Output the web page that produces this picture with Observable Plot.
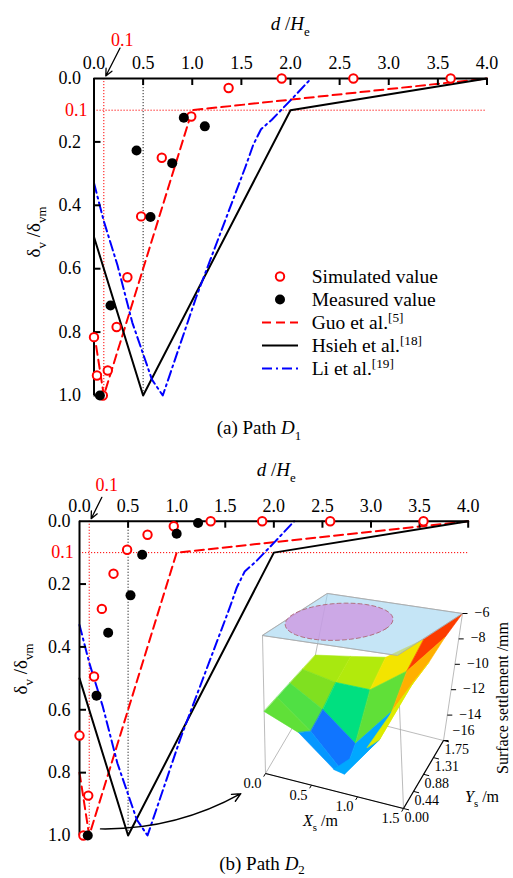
<!DOCTYPE html>
<html><head><meta charset="utf-8">
<script src="https://cdn.jsdelivr.net/npm/d3@7"></script>
<script src="https://cdn.jsdelivr.net/npm/@observablehq/plot@0.6"></script>
<style>
body{margin:0;background:#fff;}
#wrap{position:relative;width:513px;height:878px;overflow:hidden;background:#fff;font-family:"Liberation Serif","Times New Roman",serif;color:#000;}
.layer{position:absolute;}
svg text{font-family:"Liberation Serif","Times New Roman",serif;}
</style></head>
<body><div id="wrap"></div>
<script>
// ---------------- data ----------------
const xTicks = [0, 0.5, 1, 1.5, 2, 2.5, 3, 3.5, 4];
const yTicks = [0, 0.2, 0.4, 0.6, 0.8, 1.0];
const refH = [0.1];          // red dotted horizontal, red y label
const refV = [0.1];          // red dotted vertical
const refMid = [0.5];        // black dotted vertical

const guoX = [0, 0.1, 1.0, 4.0];
const guoY = [0.8, 1.0, 0.1, 0];
const hsiehX = [0, 0.5, 2.0, 4.0];
const hsiehY = [0.5, 1.0, 0.1, 0];
const liX = [0, 0.1, 0.24, 0.39, 0.59, 0.7, 1.04, 1.54, 1.62, 1.7, 1.81, 2.0, 2.21];
const liY = [0.33, 0.45, 0.59, 0.77, 0.95, 1.0, 0.69, 0.28, 0.21, 0.16, 0.13, 0.069, 0];

// Path D1
const simAX = [1.91, 2.64, 3.63, 1.37, 0.99, 0.69, 0.48, 0.34, 0.23, 0.0, 0.03, 0.14, 0.09];
const simAY = [0, 0, 0, 0.03, 0.12, 0.25, 0.435, 0.627, 0.784, 0.816, 0.937, 0.921, 1.0];
const measAX = [0.914, 1.128, 0.433, 0.796, 0.575, 0.168, 0.06];
const measAY = [0.124, 0.151, 0.227, 0.267, 0.437, 0.716, 1.0];
// Path D2
const simBX = [0.97, 1.35, 1.88, 2.58, 3.54, 0.70, 0.49, 0.35, 0.23, 0.15, 0.0, 0.09, 0.04];
const simBY = [0.016, 0, 0, 0, 0, 0.043, 0.091, 0.167, 0.279, 0.494, 0.682, 0.873, 1.0];
const measBX = [1.22, 1.0, 0.645, 0.525, 0.295, 0.175, 0.085];
const measBY = [0.006, 0.04, 0.107, 0.236, 0.355, 0.555, 1.0];

// inset: surface settlement (mm) on grid Xs x Ys (rows = Ys)
const insXs = [0, 0.375, 0.75, 1.125, 1.5];
const insYs = [0, 0.44, 0.88, 1.31, 1.75];
const insZ = [
  [-11.5, -12.5, -14.5, -12.5, -9.0],
  [-11.5, -13.5, -16.0, -13.0, -8.5],
  [-11.5, -13.0, -15.0, -12.0, -8.0],
  [-11.5, -12.0, -12.0, -10.0, -7.0],
  [-11.5, -11.0, -10.5, -8.5, -6.0]
];
const zTicks = [-6, -8, -10, -12, -14, -16];
const xsTicks = [0, 0.5, 1.0, 1.5];
const ysTicks = [0, 0.44, 0.88, 1.31, 1.75];
const surfStops = [-16, -15, -14, -13, -12, -11, -10, -9, -8, -6];
const surfColors = ["#5a00b0", "#2a20ff", "#00a8ff", "#00e080", "#80e020", "#d0f000", "#ffe000", "#ffa000", "#ff4000", "#d00000"];

// ---------------- helpers ----------------
const FONT = "Liberation Serif";
const pts = (X, Y) => X.map((x, i) => ({x, y: Y[i]}));
const wrap = document.getElementById("wrap");
function place(node, left, top) {
  const d = document.createElement("div");
  d.className = "layer"; d.style.left = left + "px"; d.style.top = top + "px";
  d.appendChild(node); wrap.appendChild(d);
}

function panel(cfg) {
  const innerH = cfg.height - cfg.marginTop - cfg.marginBottom;
  const innerW = cfg.width - cfg.marginLeft - cfg.marginRight;
  const tY = 7 / innerH, tX = 7 / innerW * 4;
  return Plot.plot({
    width: cfg.width, height: cfg.height,
    marginLeft: cfg.marginLeft, marginRight: cfg.marginRight,
    marginTop: cfg.marginTop, marginBottom: cfg.marginBottom,
    x: {domain: [0, 4], axis: null},
    y: {domain: [0, 1], reverse: true, axis: null},
    style: {background: "transparent", fontFamily: FONT, color: "black", overflow: "visible"},
    marks: [
      Plot.ruleY(refH, {x1: 0, x2: 4, stroke: "red", strokeWidth: 1, strokeDasharray: "1.2,1.8"}),
      Plot.ruleX(refV, {y1: 0, y2: 1, stroke: "red", strokeWidth: 1, strokeDasharray: "1.2,1.8"}),
      Plot.ruleX(refMid, {y1: 0, y2: 1, stroke: "#222", strokeWidth: 1, strokeDasharray: "1.2,1.8"}),
      Plot.line(pts(guoX, guoY), {x: "x", y: "y", stroke: "red", strokeWidth: 2, strokeDasharray: "9,5"}),
      Plot.line(pts(hsiehX, hsiehY), {x: "x", y: "y", stroke: "black", strokeWidth: 2}),
      Plot.line(pts(liX, liY), {x: "x", y: "y", stroke: "blue", strokeWidth: 2, strokeDasharray: "10,4,2,4"}),
      Plot.ruleY([0], {x1: 0, x2: 4, stroke: "black", strokeWidth: 2}),
      Plot.ruleX([0], {y1: 0, y2: 1, stroke: "black", strokeWidth: 2}),
      Plot.ruleX(xTicks.slice(1), {y1: 0, y2: tY, stroke: "black", strokeWidth: 2}),
      Plot.ruleY(yTicks.slice(1), {x1: 0, x2: tX, stroke: "black", strokeWidth: 2}),
      Plot.text(xTicks, {x: d => d, y: 0, text: d => d.toFixed(1), dy: cfg.xLabDy, lineAnchor: "bottom", fontSize: 18, fontFamily: FONT}),
      Plot.text(yTicks, {x: 0, y: d => d, text: d => d.toFixed(1), dx: cfg.yLabDx, textAnchor: "end", fontSize: 18, fontFamily: FONT}),
      Plot.text(refH, {x: 0, y: d => d, text: d => d.toFixed(1), dx: cfg.redDx, textAnchor: "end", fill: "red", fontSize: 18, fontFamily: FONT}),
      Plot.arrow(cfg.ann, {x1: "x1", y1: "y1", x2: "x2", y2: "y2", stroke: "black", strokeWidth: 1.3, headLength: 9, headAngle: 50}),
      Plot.text(cfg.annText, {x: "x", y: "y", text: "t", fill: "red", fontSize: 18, fontFamily: FONT}),
      ...(cfg.extra || []),
      Plot.dot(pts(cfg.simX, cfg.simY), {x: "x", y: "y", r: 4.2, stroke: "red", strokeWidth: 2, fill: "white"}),
      Plot.dot(pts(cfg.measX, cfg.measY), {x: "x", y: "y", r: 5, fill: "black"})
    ]
  });
}

// ---------------- panel (a) ----------------
place(panel({
  width: 513, height: 400, marginLeft: 93.5, marginRight: 26.5, marginTop: 78, marginBottom: 5,
  xLabDy: -9.5, yLabDx: -13, redDx: -6.5,
  ann: [{x1: 0.265, y1: -0.096, x2: 0.12, y2: -0.008}],
  annText: [{x: 0.287, y: -0.12, t: "0.1"}],
  simX: simAX, simY: simAY, measX: measAX, measY: measAY
}), 0, 0);

// ---------------- panel (b) ----------------
place(panel({
  width: 513, height: 400, marginLeft: 79, marginRight: 45.3, marginTop: 80.7, marginBottom: 5,
  xLabDy: -9, yLabDx: -9, redDx: -5.7,
  ann: [{x1: 0.23, y1: -0.076, x2: 0.12, y2: -0.008}],
  annText: [{x: 0.28, y: -0.114, t: "0.1"}],
  simX: simBX, simY: simBY, measX: measBX, measY: measBY,
  extra: [Plot.arrow([{x1: 0.216, y1: 0.979, x2: 1.66, y2: 0.867}],
    {x1: "x1", y1: "y1", x2: "x2", y2: "y2", bend: -15, stroke: "black", strokeWidth: 1.4, headLength: 10, headAngle: 50})]
}), 0, 440);

// ---------------- inset (3D surface) ----------------
// oblique view: local px of bottom face (Z=-16) and top face (Z=-6)
const view = {b0: [20, 203], bx: [138, 35], by: [40, -68], t0: [17, 65], tx: [135, 20], ty: [65, -42]};
function proj(X, Y, Z) {
  const xn = X / 1.5, yn = Y / 1.75, t = (Z + 16) / 10;
  const b = [0, 1].map(k => view.b0[k] + xn * view.bx[k] + yn * view.by[k]);
  const p = [0, 1].map(k => view.t0[k] + xn * view.tx[k] + yn * view.ty[k]);
  return [b[0] * (1 - t) + p[0] * t, b[1] * (1 - t) + p[1] * t];
}
const cellList = [];
for (let i = 0; i < insYs.length - 1; i++) for (let j = 0; j < insXs.length - 1; j++) {
  const c = [[j, i], [j + 1, i], [j + 1, i + 1], [j, i + 1]];
  const zv = d3.mean(c, ([a, b]) => insZ[b][a]);
  const depth = (insXs[j] + insXs[j + 1]) / 3 - (insYs[i] + insYs[i + 1]) / 3.5;
  cellList.push({c, zv, depth});
}
cellList.sort((a, b) => a.depth - b.depth);
const surf = [];
cellList.forEach((cell, k) => cell.c.forEach(([a, b]) => {
  const [u, v] = proj(insXs[a], insYs[b], insZ[b][a]);
  surf.push({u, v, cid: k, zv: cell.zv});
}));
const X0 = insXs[0], X1 = insXs[insXs.length - 1], Y0 = insYs[0], Y1 = insYs[insYs.length - 1];
const Zb = zTicks[zTicks.length - 1], Zt = zTicks[0];
const corners3 = [[X0, Y0], [X1, Y0], [X1, Y1], [X0, Y1]];
const edges = [];
corners3.forEach((c, k) => {
  const n = corners3[(k + 1) % 4];
  edges.push([proj(c[0], c[1], Zb), proj(n[0], n[1], Zb)]);
  edges.push([proj(c[0], c[1], Zt), proj(n[0], n[1], Zt)]);
  edges.push([proj(c[0], c[1], Zb), proj(c[0], c[1], Zt)]);
});
const topFace = corners3.map(([x, y]) => { const [u, v] = proj(x, y, Zt); return {u, v}; });
const ring = d3.range(0, 361, 6).map(a => {
  const r = a * Math.PI / 180;
  const [u, v] = proj(0.5 + 0.52 * Math.cos(r), 0.85 + 0.72 * Math.sin(r), Zt);
  return {u, v};
});
const seg = (arr) => arr.map(([p, q]) => ({x1: p[0], y1: p[1], x2: q[0], y2: q[1]}));
const xAxis = seg([[proj(X0, Y0, Zb), proj(X1, Y0, Zb)]]);
const yAxis = seg([[proj(X1, Y0, Zb), proj(X1, Y1, Zb)]]);
const xT = xsTicks.map(x => { const p = proj(x, Y0, Zb), q = proj(x, Y0 - 0.08, Zb); return {x1: p[0], y1: p[1], x2: q[0], y2: q[1], t: x.toFixed(1)}; });
const yT = ysTicks.map(y => { const p = proj(X1, y, Zb), q = proj(X1 + 0.06, y, Zb); return {x1: p[0], y1: p[1], x2: q[0], y2: q[1], t: y.toFixed(2)}; });
const zT = zTicks.map(z => { const p = proj(X1, Y1, z); return {x1: p[0], y1: p[1], x2: p[0] + 5, y2: p[1], t: "\u2212" + Math.abs(z), z}; });
const ramp = d3.scaleLinear().domain(surfStops.map(s => (s - Zb) / (Zt - Zb))).range(surfColors).interpolate(d3.interpolateRgb);

const inset = Plot.plot({
  width: 268, height: 262, margin: 0,
  x: {domain: [0, 268], axis: null},
  y: {domain: [0, 262], reverse: true, axis: null},
  color: {type: "linear", domain: [Zb, Zt], interpolate: t => ramp(t)},
  style: {background: "transparent", fontFamily: FONT, overflow: "visible"},
  marks: [
    Plot.link(seg(edges), {x1: "x1", y1: "y1", x2: "x2", y2: "y2", stroke: "#aaa", strokeWidth: 0.8}),
    Plot.line(surf, {x: "u", y: "v", z: "cid", fill: "zv", stroke: "zv", strokeWidth: 0.6, curve: "linear-closed"}),
    Plot.line(topFace, {x: "u", y: "v", fill: "#9ed3f0", fillOpacity: 0.6, stroke: "#aaa", strokeWidth: 0.8, curve: "linear-closed"}),
    Plot.line(ring, {x: "u", y: "v", fill: "#cf8fe0", fillOpacity: 0.7, stroke: "#b07080", strokeWidth: 1, strokeDasharray: "4,3"}),
    Plot.link(xAxis, {x1: "x1", y1: "y1", x2: "x2", y2: "y2", stroke: "black", strokeWidth: 1.2}),
    Plot.link(yAxis, {x1: "x1", y1: "y1", x2: "x2", y2: "y2", stroke: "black", strokeWidth: 1.2}),
    Plot.link(xT, {x1: "x1", y1: "y1", x2: "x2", y2: "y2", stroke: "black", strokeWidth: 1}),
    Plot.link(yT, {x1: "x1", y1: "y1", x2: "x2", y2: "y2", stroke: "black", strokeWidth: 1}),
    Plot.link(zT, {x1: "x1", y1: "y1", x2: "x2", y2: "y2", stroke: "black", strokeWidth: 1}),
    Plot.text(xT, {x: "x1", y: "y1", text: "t", dx: -13, dy: 10, fontSize: 14.5, fontFamily: FONT}),
    Plot.text(yT, {x: "x1", y: "y1", text: "t", dx: 1, dy: 9, textAnchor: "start", fontSize: 14, fontFamily: FONT}),
    Plot.text(zT.filter(d => d.z !== Zb), {x: "x1", y: "y1", text: "t", dx: 12, dy: -1, textAnchor: "start", fontSize: 14, fontFamily: FONT}),
    Plot.text(zT.filter(d => d.z === Zb), {x: "x1", y: "y1", text: "t", dx: 9, dy: -10, textAnchor: "start", fontSize: 14, fontFamily: FONT})
  ]
});
place(inset, 245, 570);

// ---------------- overlay texts / legend ----------------
const ov = d3.create("svg").attr("width", 513).attr("height", 878)
  .style("font-family", "'Liberation Serif', serif").style("overflow", "visible");
function rich(x, y, parts, {fs = 19, anchor = "start", rotate = 0, fill = "black", subShift = 0.3} = {}) {
  const t = ov.append("text").attr("x", x).attr("y", y).attr("font-size", fs)
    .attr("font-family", FONT).attr("text-anchor", anchor).attr("fill", fill);
  if (rotate) t.attr("transform", `rotate(${rotate},${x},${y})`);
  let shift = 0;
  for (const p of parts) {
    const target = p.sub ? fs * subShift : p.sup ? -fs * 0.38 : 0;
    const s = t.append("tspan").text(p.t).attr("dy", target - shift);
    if (p.sub || p.sup) s.attr("font-size", fs * 0.68);
    if (p.i) s.attr("font-style", "italic");
    shift = target;
  }
}
const dTitle = [{t: "d", i: 1}, {t: " /"}, {t: "H", i: 1}, {t: "e", sub: 1}];
rich(270.7, 30, dTitle);
rich(256.7, 476, dTitle);
const yTitle = [{t: "\u03b4"}, {t: "v", sub: 1}, {t: " /\u03b4"}, {t: "vm", sub: 1}];
rich(40, 232, yTitle, {anchor: "middle", rotate: -90});
rich(27, 669, yTitle, {anchor: "middle", rotate: -90});
rich(259, 434, [{t: "(a) Path "}, {t: "D", i: 1}, {t: "1", sub: 1}], {anchor: "middle"});
rich(262, 870, [{t: "(b) Path "}, {t: "D", i: 1}, {t: "2", sub: 1}], {anchor: "middle", subShift: 0.22});
rich(303, 826, [{t: "X", i: 1}, {t: "s", sub: 1}, {t: " /m"}], {fs: 16});
rich(465, 802, [{t: "Y", i: 1}, {t: "s", sub: 1}, {t: " /m"}], {fs: 16});
rich(508, 698, [{t: "Surface settlement /mm"}], {fs: 16, anchor: "middle", rotate: -90});

// legend
const legRows = [283, 306, 329, 352, 375];
ov.append("circle").attr("cx", 280).attr("cy", legRows[0] - 6.5).attr("r", 4.2).attr("fill", "white").attr("stroke", "red").attr("stroke-width", 2);
ov.append("circle").attr("cx", 280).attr("cy", legRows[1] - 6.5).attr("r", 5).attr("fill", "black");
const legLines = [["red", "9,5"], ["black", null], ["blue", "10,4,2,4"]];
legLines.forEach(([c, dash], k) => {
  const l = ov.append("line").attr("x1", 262).attr("x2", 298).attr("y1", legRows[k + 2] - 6.5).attr("y2", legRows[k + 2] - 6.5)
    .attr("stroke", c).attr("stroke-width", 2);
  if (dash) l.attr("stroke-dasharray", dash);
});
rich(311.7, legRows[0], [{t: "Simulated value"}], {fs: 19.5});
rich(311.7, legRows[1], [{t: "Measured value"}], {fs: 19.5});
rich(311.7, legRows[2], [{t: "Guo et al."}, {t: "[5]", sup: 1}], {fs: 19.5});
rich(311.7, legRows[3], [{t: "Hsieh et al."}, {t: "[18]", sup: 1}], {fs: 19.5});
rich(311.7, legRows[4], [{t: "Li et al."}, {t: "[19]", sup: 1}], {fs: 19.5});
place(ov.node(), 0, 0);
</script>
</body></html>
